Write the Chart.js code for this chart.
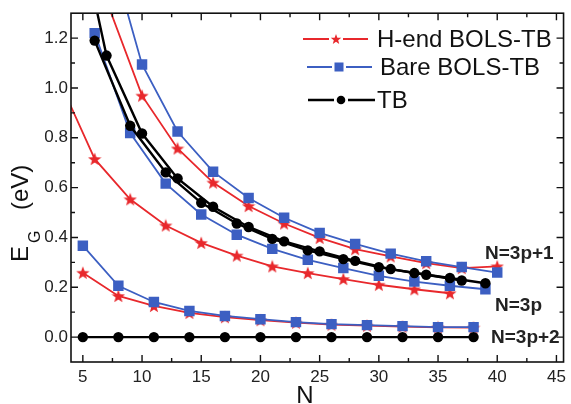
<!DOCTYPE html>
<html>
<head>
<meta charset="utf-8">
<script src="https://cdn.jsdelivr.net/npm/chart.js@4.4.1/dist/chart.umd.min.js"></script>
<style>
html,body{margin:0;padding:0;background:#fff;}
#wrap{width:571px;height:404px;position:relative;}
</style>
</head>
<body>
<div id="wrap"><canvas id="c" width="571" height="404"></canvas></div>
<script>
// ---- data ----
const nP2   = [5,8,11,14,17,20,23,26,29,32,35,38];
const hendP2 = [0.258,0.165,0.125,0.097,0.080,0.068,0.058,0.050,0.046,0.042,0.039,0.038];
const bareP2 = [0.367,0.206,0.141,0.105,0.085,0.072,0.060,0.052,0.048,0.044,0.040,0.040];
const tbP2   = [0,0,0,0,0,0,0,0,0,0,0,0];

const nHendP0 = [3,6,9,12,15,18,21,24,27,30,33,36];
const hendP0  = [1.03,0.715,0.553,0.448,0.378,0.327,0.284,0.257,0.233,0.210,0.192,0.176];
const nP0     = [6,9,12,15,18,21,24,27,30,33,36,39];
const bareP0  = [1.22,0.819,0.616,0.492,0.411,0.354,0.310,0.277,0.246,0.223,0.206,0.192];
const tbP0    = [1.19,0.848,0.661,0.539,0.456,0.394,0.348,0.313,0.281,0.257,0.237,0.216];

const nP1     = [7,10,13,16,19,22,25,28,31,34,37,40];
const hendP1  = [1.35,0.969,0.757,0.620,0.526,0.456,0.398,0.353,0.324,0.297,0.277,0.284];
const bareP1  = [1.60,1.094,0.825,0.664,0.558,0.479,0.418,0.374,0.335,0.304,0.281,0.259];
const nTbP1   = [4,7,10,13,16,19,22,25,28,31,34,37];
const tbP1    = [1.79,1.13,0.817,0.637,0.523,0.442,0.384,0.344,0.306,0.273,0.250,0.227];

const xTicks = [5,10,15,20,25,30,35,40,45];
const xMinor = [7.5,12.5,17.5,22.5,27.5,32.5,37.5,42.5];
const yTicks = [0.0,0.2,0.4,0.6,0.8,1.0,1.2];
const yMinor = [0.1,0.3,0.5,0.7,0.9,1.1];

const legendLabels = ['H-end BOLS-TB','Bare BOLS-TB','TB'];
const groupLabels = ['N=3p+1','N=3p','N=3p+2'];

const RED = '#e8282c', BLUE = '#3c5fc2', BLACK = '#000000';
const FONT = "'Liberation Sans', Arial, sans-serif";

function pts(xs, ys){ return xs.map((x,i)=>({x:x, y:ys[i]})); }

function starPath(ctx, cx, cy, R, r){
  ctx.beginPath();
  for(let i=0;i<10;i++){
    const a = -Math.PI/2 + i*Math.PI/5;
    const rad = i%2===0 ? R : r;
    const px = cx + rad*Math.cos(a), py = cy + rad*Math.sin(a);
    if(i===0) ctx.moveTo(px,py); else ctx.lineTo(px,py);
  }
  ctx.closePath();
}
function makeStar(size, color){
  const cv = document.createElement('canvas');
  cv.width = size; cv.height = size;
  const g = cv.getContext('2d');
  g.fillStyle = color;
  starPath(g, size/2, size/2+0.6, size/2, size/2*0.42);
  g.fill();
  return cv;
}
const starImg = makeStar(14, RED);

function ds(data, color, style, lw, order){
  const base = {data:data, showLine:true, borderColor:color, backgroundColor:color,
    borderWidth:lw, pointBorderWidth:0, pointHoverRadius:0, clip:0, order:order, tension:0};
  if(style==='star'){ base.pointStyle = starImg; base.pointRadius = 7; }
  else if(style==='rect'){ base.pointStyle='rect'; base.pointRadius = 7.4; }
  else { base.pointStyle='circle'; base.pointRadius = 5.2; }
  return base;
}

const datasets = [
  ds(pts(nP2,tbP2), BLACK, 'circle', 2.4, 0),
  ds(pts(nP0,tbP0), BLACK, 'circle', 2.4, 0),
  ds(pts(nTbP1,tbP1), BLACK, 'circle', 2.4, 0),
  ds(pts(nP2,bareP2), BLUE, 'rect', 1.8, 1),
  ds(pts(nP0,bareP0), BLUE, 'rect', 1.8, 1),
  ds(pts(nP1,bareP1), BLUE, 'rect', 1.8, 1),
  ds(pts(nP2,hendP2), RED, 'star', 1.8, 2),
  ds(pts(nHendP0,hendP0), RED, 'star', 1.8, 2),
  ds(pts(nP1,hendP1), RED, 'star', 1.8, 2)
];

const decor = {
  id:'decor',
  afterDraw(chart){
    const ctx = chart.ctx, a = chart.chartArea;
    const xs = chart.scales.x, ys = chart.scales.y;
    ctx.save();
    // frame
    ctx.strokeStyle = '#111'; ctx.lineWidth = 1.6;
    ctx.strokeRect(a.left, a.top, a.right-a.left, a.bottom-a.top);
    // ticks (inward, all four sides)
    ctx.lineWidth = 1.4;
    ctx.beginPath();
    const tickX = (v,len)=>{ const px = xs.getPixelForValue(v);
      ctx.moveTo(px,a.bottom); ctx.lineTo(px,a.bottom-len);
      ctx.moveTo(px,a.top); ctx.lineTo(px,a.top+len); };
    const tickY = (v,len)=>{ const py = ys.getPixelForValue(v);
      ctx.moveTo(a.left,py); ctx.lineTo(a.left+len,py);
      ctx.moveTo(a.right,py); ctx.lineTo(a.right-len,py); };
    xTicks.forEach(v=>tickX(v,7)); xMinor.forEach(v=>tickX(v,4));
    yTicks.forEach(v=>tickY(v,7)); yMinor.forEach(v=>tickY(v,4));
    ctx.stroke();

    // axis titles
    ctx.fillStyle = '#111';
    ctx.font = '24px ' + FONT;
    ctx.textAlign = 'center'; ctx.textBaseline = 'alphabetic';
    ctx.fillText('N', 305, 403);
    ctx.save();
    ctx.translate(28, 262);
    ctx.rotate(-Math.PI/2);
    ctx.textAlign = 'left';
    ctx.font = '24px ' + FONT;
    ctx.fillText('E', 0, 0);
    ctx.font = '16px ' + FONT;
    ctx.fillText('G', 19, 12);
    ctx.font = '24px ' + FONT;
    ctx.fillText('(eV)', 52, 0);
    ctx.restore();

    // legend
    const rows = [
      {y:39, x0:303, x1:368, mx:336, tx:377, c:RED, s:'star'},
      {y:67, x0:307, x1:372, mx:339, tx:380, c:BLUE, s:'rect'},
      {y:100, x0:308, x1:375, mx:341, tx:377, c:BLACK, s:'circle'}
    ];
    rows.forEach((r,i)=>{
      ctx.strokeStyle = r.c; ctx.lineWidth = r.s==='circle'?2.4:1.8;
      ctx.beginPath(); ctx.moveTo(r.x0,r.y); ctx.lineTo(r.mx-7,r.y);
      ctx.moveTo(r.mx+7,r.y); ctx.lineTo(r.x1,r.y); ctx.stroke();
      ctx.fillStyle = r.c;
      if(r.s==='star'){ starPath(ctx, r.mx, r.y+0.5, 5.5, 2.3); ctx.fill(); }
      else if(r.s==='rect'){ ctx.fillRect(r.mx-4.5, r.y-4.5, 9, 9); }
      else { ctx.beginPath(); ctx.arc(r.mx, r.y, 4.3, 0, Math.PI*2); ctx.fill(); }
      ctx.fillStyle = '#111';
      ctx.font = '24px ' + FONT;
      ctx.textAlign = 'left'; ctx.textBaseline = 'middle';
      ctx.fillText(legendLabels[i], r.tx, r.y+1);
    });

    // group annotations
    ctx.font = 'bold 19px ' + FONT;
    ctx.fillStyle = '#222';
    ctx.textAlign = 'left'; ctx.textBaseline = 'middle';
    ctx.fillText(groupLabels[0], 485, 254);
    ctx.fillText(groupLabels[1], 495, 306);
    ctx.fillText(groupLabels[2], 491, 338);
    ctx.restore();
  }
};

new Chart(document.getElementById('c'), {
  type:'scatter',
  data:{datasets:datasets},
  options:{
    responsive:false, animation:false, devicePixelRatio:1,
    layout:{padding:{top:13, right:5, left:0, bottom:0}},
    plugins:{legend:{display:false}, tooltip:{enabled:false}},
    scales:{
      x:{type:'linear', min:4, max:45.6,
        grid:{display:false, drawTicks:false}, border:{display:false},
        afterBuildTicks:s=>{ s.ticks = xTicks.map(v=>({value:v})); },
        afterFit:s=>{ s.height = 42; },
        ticks:{font:{size:17, family:FONT}, color:'#222', padding:5, maxRotation:0, autoSkip:false}
      },
      y:{type:'linear', min:-0.1, max:1.3,
        grid:{display:false, drawTicks:false}, border:{display:false},
        afterBuildTicks:s=>{ s.ticks = yTicks.map(v=>({value:v})); },
        afterFit:s=>{ s.width = 71; },
        ticks:{font:{size:17, family:FONT}, color:'#222', padding:3, autoSkip:false,
          callback:v=>Number(v).toFixed(1)}
      }
    }
  },
  plugins:[decor]
});
</script>
</body>
</html>
